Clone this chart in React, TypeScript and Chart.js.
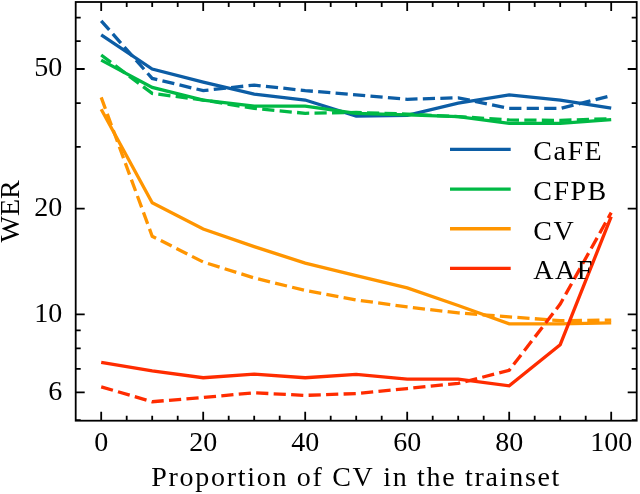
import React, { useEffect, useRef } from "react";
import { Chart, registerables } from "chart.js";

Chart.register(...registerables);

// ---- data ----
const proportions = [0, 10, 20, 30, 40, 50, 60, 70, 80, 90, 100];

const cafe = [62.5, 50.0, 45.9, 42.4, 40.8, 36.7, 36.9, 40.0, 42.2, 40.8, 38.7];
const cafeDashed = [68.6, 47.0, 43.4, 45.0, 43.4, 42.2, 41.0, 41.4, 38.6, 38.6, 42.0];
const cfpb = [53.0, 44.3, 40.8, 39.2, 39.2, 37.4, 37.0, 36.6, 35.0, 35.0, 35.9];
const cfpbDashed = [54.8, 42.6, 40.8, 38.6, 37.4, 37.6, 37.2, 36.6, 35.8, 35.7, 36.1];
const cv = [38.4, 20.8, 17.5, 15.6, 14.0, 12.9, 11.9, 10.6, 9.4, 9.4, 9.46];
const cvDashed = [41.5, 16.7, 14.1, 12.7, 11.7, 11.0, 10.5, 10.1, 9.84, 9.6, 9.63];
const aaf = [7.3, 6.9, 6.6, 6.76, 6.6, 6.75, 6.54, 6.54, 6.26, 8.2, 19.0];
const aafDashed = [6.22, 5.64, 5.8, 5.98, 5.88, 5.95, 6.15, 6.36, 6.93, 10.7, 19.5];

const seriesLabels = ["CaFE", "CFPB", "CV", "AAF"];
const seriesColors = ["#0C5DA5", "#00B945", "#FF9500", "#FF2C00"];

const xMajorTicks = [0, 20, 40, 60, 80, 100];
const xMinorTicks = [5, 10, 15, 25, 30, 35, 45, 50, 55, 65, 70, 75, 85, 90, 95];
const yMajorTicks = [6, 10, 20, 50];
const yMinorTicks = [5, 7, 8, 9, 30, 40, 60, 70];

const xLimits = [-5, 105];
const yLimits = [4.98, 77.6];

const xTitle = "Proportion of CV in the trainset";
const yTitle = "WER";

const FONT = "'Liberation Serif', 'Times New Roman', serif";
const LINE_W = 3.3;

const frameAndLegend = {
  id: "frameAndLegend",
  afterLayout(chart: any) {
    const xs = chart.scales.x;
    if (xs && !xs.__spaced) {
      const orig = xs.drawTitle;
      xs.drawTitle = function (...args: any[]) {
        const ctx = this.ctx;
        const prev = ctx.letterSpacing;
        ctx.letterSpacing = "1.7px";
        orig.apply(this, args);
        ctx.letterSpacing = prev || "0px";
      };
      xs.__spaced = true;
    }
  },
  afterDraw(chart: any) {
    const { ctx, chartArea: a, scales } = chart;
    const xs = scales.x;
    const ys = scales.y;
    ctx.save();
    ctx.strokeStyle = "#000";
    ctx.lineWidth = 1.8;
    ctx.lineCap = "butt";
    const xSets: [number[], number][] = [
      [xMajorTicks, 9],
      [xMinorTicks, 5],
    ];
    for (const [vals, len] of xSets) {
      for (const v of vals) {
        const px = xs.getPixelForValue(v);
        ctx.beginPath();
        ctx.moveTo(px, a.bottom);
        ctx.lineTo(px, a.bottom - len);
        ctx.moveTo(px, a.top);
        ctx.lineTo(px, a.top + len);
        ctx.stroke();
      }
    }
    const ySets: [number[], number][] = [
      [yMajorTicks, 9],
      [yMinorTicks, 5],
    ];
    for (const [vals, len] of ySets) {
      for (const v of vals) {
        const py = ys.getPixelForValue(v);
        if (py > a.bottom + 0.5 || py < a.top - 0.5) continue;
        ctx.beginPath();
        ctx.moveTo(a.left, py);
        ctx.lineTo(a.left + len, py);
        ctx.moveTo(a.right, py);
        ctx.lineTo(a.right - len, py);
        ctx.stroke();
      }
    }
    ctx.strokeRect(a.left, a.top, a.right - a.left, a.bottom - a.top);

    // legend (solid series only)
    const cy = (a.top + a.bottom) / 2;
    const rowGap = 39.7;
    const firstRow = cy - 62;
    ctx.font = `28px ${FONT}`;
    ctx.letterSpacing = "1.5px";
    ctx.textBaseline = "alphabetic";
    ctx.textAlign = "left";
    ctx.fillStyle = "#000";
    const entries = chart.data.datasets.filter((d: any) => seriesLabels.includes(d.label));
    entries.forEach((d: any, i: number) => {
      const y = firstRow + i * rowGap;
      ctx.strokeStyle = d.borderColor;
      ctx.lineWidth = LINE_W;
      ctx.beginPath();
      ctx.moveTo(a.right - 186.7, y);
      ctx.lineTo(a.right - 126, y);
      ctx.stroke();
      ctx.fillText(d.label, a.right - 103.4, y + 10.8);
    });
    ctx.letterSpacing = "0px";
    ctx.restore();
  },
};

export default function App() {
  const canvasRef = useRef<HTMLCanvasElement | null>(null);

  useEffect(() => {
    const canvas = canvasRef.current;
    if (!canvas) return;

    const solid = [cafe, cfpb, cv, aaf];
    const dashed = [cafeDashed, cfpbDashed, cvDashed, aafDashed];
    const datasets: any[] = [];
    let idx = 0;
    seriesLabels.forEach((label, s) => {
      datasets.push({
        label,
        data: proportions.map((x, i) => ({ x, y: solid[s][i] })),
        borderColor: seriesColors[s],
        borderWidth: LINE_W,
        pointRadius: 0,
        tension: 0,
        fill: false,
        order: 100 - idx++,
      });
      datasets.push({
        label: label + " (dashed)",
        data: proportions.map((x, i) => ({ x, y: dashed[s][i] })),
        borderColor: seriesColors[s],
        borderWidth: LINE_W,
        borderDash: [12.2, 5.3],
        pointRadius: 0,
        tension: 0,
        fill: false,
        order: 100 - idx++,
      });
    });

    const chart = new Chart(canvas, {
      type: "line",
      data: { datasets },
      options: {
        animation: false,
        responsive: false,
        devicePixelRatio: 1,
        layout: { padding: { left: 0, right: 3.3, top: 2, bottom: 0 } },
        plugins: {
          legend: { display: false },
          tooltip: { enabled: false },
        },
        scales: {
          x: {
            type: "linear",
            min: xLimits[0],
            max: xLimits[1],
            grid: { display: false, drawTicks: false },
            border: { display: false },
            afterBuildTicks: (scale: any) => {
              scale.ticks = xMajorTicks.map((v) => ({ value: v }));
            },
            afterFit: (scale: any) => {
              scale.height = 73.3;
              scale.paddingLeft = 0;
              scale.paddingRight = 0;
            },
            ticks: {
              autoSkip: false,
              maxRotation: 0,
              padding: 6,
              color: "#000",
              font: { family: FONT, size: 28 },
              callback: (v: any) => String(v),
            },
            title: {
              display: true,
              text: xTitle,
              color: "#000",
              font: { family: FONT, size: 28, lineHeight: 1.12 },
              padding: { top: 0, bottom: 0 },
            },
          },
          y: {
            type: "logarithmic",
            min: yLimits[0],
            max: yLimits[1],
            grid: { display: false, drawTicks: false },
            border: { display: false },
            afterBuildTicks: (scale: any) => {
              scale.ticks = yMajorTicks.map((v) => ({ value: v }));
            },
            afterFit: (scale: any) => {
              scale.width = 75.7;
              scale.paddingTop = 0;
              scale.paddingBottom = 0;
            },
            ticks: {
              autoSkip: false,
              padding: 13.4,
              color: "#000",
              font: { family: FONT, size: 28 },
              callback: (v: any) => String(v),
            },
            title: {
              display: true,
              text: yTitle,
              color: "#000",
              font: { family: FONT, size: 28, lineHeight: 0.84 },
              padding: { top: 0, bottom: 0 },
            },
          },
        },
      },
      plugins: [frameAndLegend],
    } as any);

    return () => chart.destroy();
  }, []);

  return (
    <div style={{ position: "fixed", left: 0, top: 0, width: 640, height: 494, background: "#fff" }}>
      <canvas ref={canvasRef} width={640} height={494} style={{ display: "block", width: 640, height: 494 }} />
    </div>
  );
}
